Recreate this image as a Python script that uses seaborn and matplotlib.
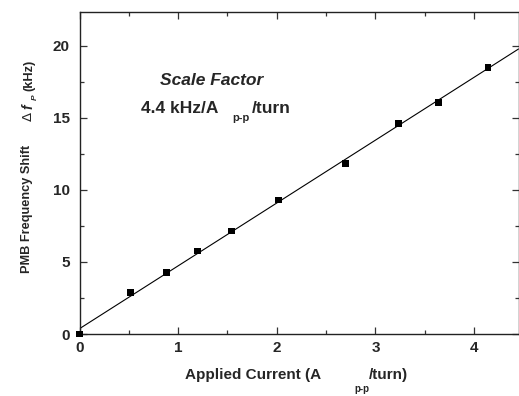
import numpy as np
import pandas as pd
import matplotlib
matplotlib.use("Agg")
import matplotlib.pyplot as plt
import seaborn as sns
from matplotlib.ticker import MultipleLocator

# data
current = [0.0, 0.52, 0.88, 1.20, 1.54, 2.02, 2.70, 3.23, 3.64, 4.14]
freq_shift = [0.0, 2.87, 4.28, 5.76, 7.15, 9.30, 11.85, 14.60, 16.10, 18.50]
x_ticks = [0, 1, 2, 3, 4]
y_ticks = [0, 5, 10, 15, 20]

df = pd.DataFrame({"current": current, "shift": freq_shift})

sns.set_style("ticks")
plt.rcParams["font.family"] = ["Liberation Sans", "DejaVu Sans"]
plt.rcParams["font.weight"] = "bold"

W, H = 519, 396
fig = plt.figure(figsize=(W / 100, H / 100), dpi=100)
ax = fig.add_axes([79.5 / W, 1 - 334 / H, (518.5 - 79.5) / W, (334 - 12) / H])

ax.set_xlim(0, 4.45)
ax.set_ylim(0, 22.36)

# linear fit across the whole axis, then the measured points
sns.regplot(data=df, x="current", y="shift", scatter=False, ci=None, truncate=False,
            line_kws={"color": "black", "linewidth": 0.8}, ax=ax)
sns.scatterplot(data=df, x="current", y="shift", marker="s", s=24, color="black",
                edgecolor="none", ax=ax, zorder=3, clip_on=False)

ax.set_xticks(x_ticks)
ax.set_yticks(y_ticks)
ax.xaxis.set_minor_locator(MultipleLocator(0.5))
ax.yaxis.set_minor_locator(MultipleLocator(2.5))
ax.tick_params(which="both", direction="in", top=True, right=True, color="#333333")
ax.tick_params(which="major", length=5, width=0.9, labelsize=11)
ax.tick_params(which="minor", length=3.2, width=0.9)
ax.tick_params(axis="y", pad=7)
ax.tick_params(axis="x", pad=5)
for s in ax.spines.values():
    s.set_linewidth(1.0)
    s.set_color("#222222")
ax.set_xlabel("")
ax.set_ylabel("")


def px(x, y):
    return x / W, 1 - y / H


# x label pieces
fig.text(*px(185, 379), "Applied Current (A", fontsize=11, ha="left", va="baseline")
fig.text(*px(354, 392), "p-p", fontsize=7, ha="left", va="baseline")
fig.text(*px(369, 379), "/turn)", fontsize=11, ha="left", va="baseline")

# y label pieces (rotated)
fig.text(*px(27, 273), "PMB Frequency Shift", fontsize=9.2, rotation=90, ha="center", va="bottom")
fig.text(*px(28.5, 121), "\u0394", fontsize=9.5, fontweight="normal", family="DejaVu Sans",
         rotation=90, ha="center", va="bottom")
fig.text(*px(28.5, 109), "f", fontsize=10, style="italic", rotation=90, ha="center", va="bottom")
fig.text(*px(35, 100.5), "P", fontsize=6, style="italic", rotation=90, ha="center", va="bottom")
fig.text(*px(29.5, 91), "(kHz)", fontsize=9.2, rotation=90, ha="center", va="bottom")

# annotation
fig.text(*px(160, 85), "Scale Factor", fontsize=12.5, style="italic", ha="left", va="baseline")
fig.text(*px(141, 113), "4.4 kHz/A", fontsize=12.5, ha="left", va="baseline")
fig.text(*px(232, 121), "p-p", fontsize=8, ha="left", va="baseline")
fig.text(*px(252, 113), "/turn", fontsize=12.5, ha="left", va="baseline")

fig.savefig("out.png", dpi=100)
